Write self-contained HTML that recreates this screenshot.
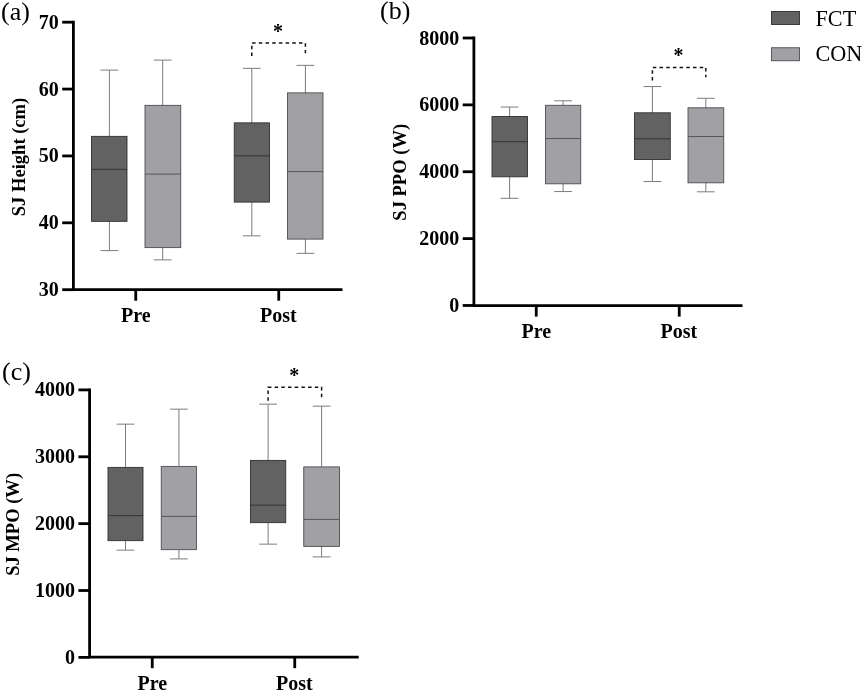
<!DOCTYPE html>
<html lang="en">
<head>
<meta charset="utf-8">
<title>SJ box plots</title>
<style>
html,body{margin:0;padding:0;background:#fff;}
body{width:864px;height:691px;overflow:hidden;}
svg{display:block;will-change:transform;}
text{font-family:"Liberation Serif","Times New Roman",Times,serif;fill:#000;}
.pl{font-size:26px;}
.tl{font-size:20px;font-weight:bold;text-anchor:end;}
.xl{font-size:20px;font-weight:bold;text-anchor:middle;}
.yl{font-size:18.55px;font-weight:bold;text-anchor:middle;}
.lg{font-size:22.2px;}
.ast{font-size:20px;font-weight:bold;text-anchor:middle;}
.ax{stroke:#000;stroke-width:2.8;fill:none;}
.br{stroke:#111;stroke-width:1.5;fill:none;stroke-dasharray:3.5 3.2;}
</style>
</head>
<body>
<svg width="864" height="691" viewBox="0 0 864 691">
<rect width="864" height="691" fill="#fff"/>
<g id="panel-a">
<text x="1" y="19.7" class="pl">(a)</text>
<path d="M109.4 70.1V250.6M100.50 70.1H118.30M100.50 250.6H118.30" stroke="#7c7c7c" stroke-width="1" fill="none"/>
<rect x="91.5" y="136.35" width="35.50" height="85.00" fill="#626262" stroke="#303030" stroke-width="0.9"/>
<path d="M91.5 169.35H127" stroke="#303030" stroke-width="0.9"/>
<path d="M162.7 60.1V259.85M153.80 60.1H171.60M153.80 259.85H171.60" stroke="#7c7c7c" stroke-width="1" fill="none"/>
<rect x="145" y="105.35" width="35.75" height="142.25" fill="#a1a0a5" stroke="#4e4e4e" stroke-width="0.9"/>
<path d="M145 174.1H180.75" stroke="#4e4e4e" stroke-width="0.9"/>
<path d="M251.8 68.35V235.85M242.90 68.35H260.70M242.90 235.85H260.70" stroke="#7c7c7c" stroke-width="1" fill="none"/>
<rect x="234.25" y="122.85" width="35.25" height="79.25" fill="#626262" stroke="#303030" stroke-width="0.9"/>
<path d="M234.25 155.85H269.5" stroke="#303030" stroke-width="0.9"/>
<path d="M305.4 65.35V253.35M296.50 65.35H314.30M296.50 253.35H314.30" stroke="#7c7c7c" stroke-width="1" fill="none"/>
<rect x="287.5" y="92.85" width="35.50" height="146.25" fill="#a1a0a5" stroke="#4e4e4e" stroke-width="0.9"/>
<path d="M287.5 171.6H323" stroke="#4e4e4e" stroke-width="0.9"/>
<path d="M251.8 56V42.9H305.4V53.2" class="br"/>
<text x="277.9" y="37.85" class="ast">*</text>
<path d="M73.4 20.8V291.09999999999997M72.0 289.7H342.5" class="ax"/>
<path d="M62.20 22.2H73.4" class="ax"/>
<text x="58.80" y="28.70" class="tl">70</text>
<path d="M62.20 89.07H73.4" class="ax"/>
<text x="58.80" y="95.57" class="tl">60</text>
<path d="M62.20 155.94H73.4" class="ax"/>
<text x="58.80" y="162.44" class="tl">50</text>
<path d="M62.20 222.81H73.4" class="ax"/>
<text x="58.80" y="229.31" class="tl">40</text>
<path d="M62.20 289.68H73.4" class="ax"/>
<text x="58.80" y="296.18" class="tl">30</text>
<path d="M135.75 289.7V300.70" class="ax"/>
<text x="135.75" y="322.30" class="xl">Pre</text>
<path d="M278.75 289.7V300.70" class="ax"/>
<text x="278.35" y="322.30" class="xl">Post</text>
<text transform="translate(24.6 157.0) rotate(-90)" class="yl">SJ Height (cm)</text>
</g>
<g id="panel-b">
<text x="380" y="19.4" class="pl">(b)</text>
<path d="M509.6 107.05V198.3M500.70 107.05H518.50M500.70 198.3H518.50" stroke="#7c7c7c" stroke-width="1" fill="none"/>
<rect x="492" y="116.55" width="35.50" height="60.25" fill="#626262" stroke="#303030" stroke-width="0.9"/>
<path d="M492 141.7H527.5" stroke="#303030" stroke-width="0.9"/>
<path d="M563.1 100.8V191.55M554.20 100.8H572.00M554.20 191.55H572.00" stroke="#7c7c7c" stroke-width="1" fill="none"/>
<rect x="545.5" y="105.3" width="35.25" height="78.50" fill="#a1a0a5" stroke="#4e4e4e" stroke-width="0.9"/>
<path d="M545.5 138.55H580.75" stroke="#4e4e4e" stroke-width="0.9"/>
<path d="M652.4 86.55V181.55M643.50 86.55H661.30M643.50 181.55H661.30" stroke="#7c7c7c" stroke-width="1" fill="none"/>
<rect x="634.5" y="112.8" width="35.75" height="46.75" fill="#626262" stroke="#303030" stroke-width="0.9"/>
<path d="M634.5 138.8H670.25" stroke="#303030" stroke-width="0.9"/>
<path d="M705.8 98.3V191.8M696.90 98.3H714.70M696.90 191.8H714.70" stroke="#7c7c7c" stroke-width="1" fill="none"/>
<rect x="688" y="107.8" width="35.75" height="75.00" fill="#a1a0a5" stroke="#4e4e4e" stroke-width="0.9"/>
<path d="M688 136.55H723.75" stroke="#4e4e4e" stroke-width="0.9"/>
<path d="M652.4 80.4V67.4H705.8V77.2" class="br"/>
<text x="678.5" y="61.9" class="ast">*</text>
<path d="M473.9 36.6V307.0M472.5 305.6H742.5" class="ax"/>
<path d="M462.70 38.0H473.9" class="ax"/>
<text x="459.30" y="44.50" class="tl">8000</text>
<path d="M462.70 104.87H473.9" class="ax"/>
<text x="459.30" y="111.37" class="tl">6000</text>
<path d="M462.70 171.74H473.9" class="ax"/>
<text x="459.30" y="178.24" class="tl">4000</text>
<path d="M462.70 238.61H473.9" class="ax"/>
<text x="459.30" y="245.11" class="tl">2000</text>
<path d="M462.70 305.48H473.9" class="ax"/>
<text x="459.30" y="311.98" class="tl">0</text>
<path d="M536.25 305.6V316.60" class="ax"/>
<text x="536.25" y="338.20" class="xl">Pre</text>
<path d="M679.25 305.6V316.60" class="ax"/>
<text x="678.85" y="338.20" class="xl">Post</text>
<text transform="translate(405.5 172.3) rotate(-90)" class="yl">SJ PPO (W)</text>
</g>
<g id="panel-c">
<text x="2" y="380.1" class="pl">(c)</text>
<path d="M125.5 424.15V550.15M116.60 424.15H134.40M116.60 550.15H134.40" stroke="#7c7c7c" stroke-width="1" fill="none"/>
<rect x="108" y="467.4" width="35.00" height="73.25" fill="#626262" stroke="#303030" stroke-width="0.9"/>
<path d="M108 515.65H143" stroke="#303030" stroke-width="0.9"/>
<path d="M178.9 409.15V558.9M170.00 409.15H187.80M170.00 558.9H187.80" stroke="#7c7c7c" stroke-width="1" fill="none"/>
<rect x="161.25" y="466.4" width="35.25" height="83.25" fill="#a1a0a5" stroke="#4e4e4e" stroke-width="0.9"/>
<path d="M161.25 516.4H196.5" stroke="#4e4e4e" stroke-width="0.9"/>
<path d="M268.1 404.15V544.15M259.20 404.15H277.00M259.20 544.15H277.00" stroke="#7c7c7c" stroke-width="1" fill="none"/>
<rect x="250.5" y="460.4" width="35.25" height="62.25" fill="#626262" stroke="#303030" stroke-width="0.9"/>
<path d="M250.5 505.15H285.75" stroke="#303030" stroke-width="0.9"/>
<path d="M321.6 406.15V556.9M312.70 406.15H330.50M312.70 556.9H330.50" stroke="#7c7c7c" stroke-width="1" fill="none"/>
<rect x="303.75" y="466.9" width="35.75" height="79.50" fill="#a1a0a5" stroke="#4e4e4e" stroke-width="0.9"/>
<path d="M303.75 519.4H339.5" stroke="#4e4e4e" stroke-width="0.9"/>
<path d="M268.1 400.8V387.2H321.6V397.3" class="br"/>
<text x="294.3" y="381.9" class="ast">*</text>
<path d="M89.6 388.5V658.6M88.19999999999999 657.2H358.7" class="ax"/>
<path d="M78.40 389.9H89.6" class="ax"/>
<text x="75.00" y="396.40" class="tl">4000</text>
<path d="M78.40 456.77H89.6" class="ax"/>
<text x="75.00" y="463.27" class="tl">3000</text>
<path d="M78.40 523.64H89.6" class="ax"/>
<text x="75.00" y="530.14" class="tl">2000</text>
<path d="M78.40 590.51H89.6" class="ax"/>
<text x="75.00" y="597.01" class="tl">1000</text>
<path d="M78.40 657.38H89.6" class="ax"/>
<text x="75.00" y="663.88" class="tl">0</text>
<path d="M152.25 657.2V668.20" class="ax"/>
<text x="152.25" y="689.80" class="xl">Pre</text>
<path d="M294.75 657.2V668.20" class="ax"/>
<text x="294.35" y="689.80" class="xl">Post</text>
<text transform="translate(18.8 524.4) rotate(-90)" class="yl">SJ MPO (W)</text>
</g>
<g id="legend">
<rect x="771.5" y="11.5" width="28" height="13" fill="#626262" stroke="#303030" stroke-width="0.9"/>
<rect x="771.5" y="47.75" width="28" height="13" fill="#a1a0a5" stroke="#4e4e4e" stroke-width="0.9"/>
<text x="815.5" y="25.5" class="lg">FCT</text>
<text x="815.5" y="61.4" class="lg">CON</text>
</g>
</svg>
</body>
</html>
